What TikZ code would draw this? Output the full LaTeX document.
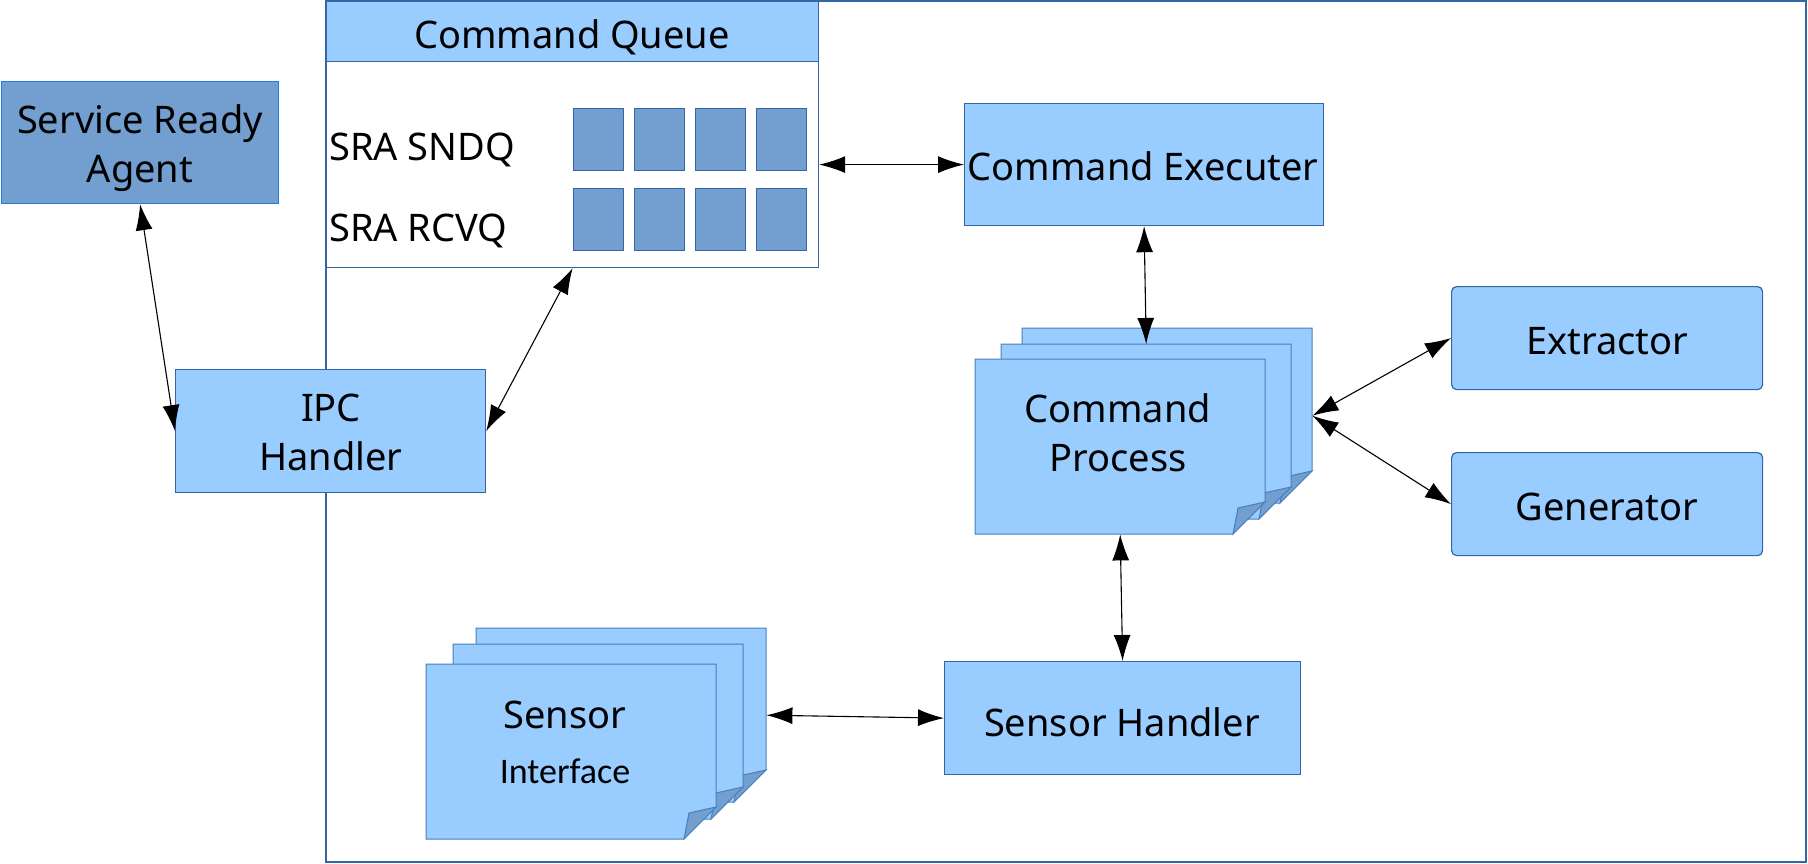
\documentclass[tikz,border=0pt]{standalone}
\usepackage{fontspec}
\setmainfont{Noto Sans}
\newfontfamily\ifacefont{Carlito}
\usetikzlibrary{arrows.meta}
\definecolor{lb}{HTML}{99CCFF}
\definecolor{mb}{HTML}{729FCF}
\definecolor{bd}{HTML}{3465A4}
\definecolor{pb}{HTML}{4A7EBB}
\definecolor{sbd}{HTML}{1C7FD0}
\newcommand\pagesheet[4]{%
  \filldraw[fill=lb,draw=pb,line width=1pt] (#1,#2) -- (#3,#2) -- (#3,#4-32) -- (#3-32,#4) -- (#1,#4) -- cycle;
  \filldraw[fill=mb,draw=pb,line width=1pt] (#3-32,#4) -- (#3-27,#4-26) -- (#3,#4-32) -- cycle;}
\begin{document}
\begin{tikzpicture}[x=1pt,y=-1pt,
  box/.style={draw=bd, fill=lb, line width=1.2pt, inner sep=0, anchor=north west},
  rbox/.style={box, rounded corners=5pt},
  lbl/.style={font=\fontsize{38}{49}\selectfont, align=center, inner sep=0},
  anchorbox/.style={draw=none, inner sep=0, anchor=north west},
  conn/.style={{Latex[length=26pt,width=17pt]}-{Latex[length=26pt,width=17pt]}, line width=1.1pt, black},
  cell/.style={draw=bd, fill=mb, line width=1.2pt, minimum width=50pt, minimum height=62pt, inner sep=0, anchor=north west}]
\useasboundingbox (0,0) rectangle (1808,864);
% outer frame
\draw[bd, line width=1.2pt] (326,1) rectangle (1806,862);
% Command Queue
\node[draw=bd, fill=white, line width=1.2pt, minimum width=492pt, minimum height=266pt, inner sep=0, anchor=north west] (cq) at (326,1) {};
\node[box, minimum width=492pt, minimum height=60pt] (cqh) at (326,1) {};
\node[lbl] (cqt) at (572,37) {Command Queue};
\node[lbl, anchor=west] (sndq) at (329,150) {SRA SNDQ};
\node[lbl, anchor=west] (rcvq) at (329,231) {SRA RCVQ};
\foreach \x [count=\i] in {573,634,695,756} {
  \node[cell] (s\i) at (\x,108) {};
  \node[cell] (r\i) at (\x,188) {};
}
% Service Ready Agent
\node[draw=sbd, fill=mb, line width=1.2pt, minimum width=277pt, minimum height=122pt, inner sep=0, anchor=north west] (sra) at (1,81) {};
\node[lbl] (srat) at (140,148) {Service Ready\\Agent};
% IPC Handler
\node[box, minimum width=310pt, minimum height=123pt] (ipc) at (175,369) {};
\node[lbl] (ipct) at (331,432) {IPC\\Handler};
% Command Executer
\node[box, minimum width=359pt, minimum height=122pt] (ce) at (964,103) {};
\node[lbl] (cet) at (1143,166.5) {Command Executer};
% Extractor / Generator
\node[rbox, minimum width=311pt, minimum height=103pt] (ext) at (1451,286) {};
\node[lbl] (extt) at (1607,341) {Extractor};
\node[rbox, minimum width=311pt, minimum height=103pt] (gen) at (1451,452) {};
\node[lbl] (gent) at (1607,507) {Generator};
% Sensor Handler
\node[box, minimum width=356pt, minimum height=113pt] (sh) at (944,661) {};
\node[lbl] (sht) at (1122,722) {Sensor Handler};
% Command Process stack
\pagesheet{1022}{328}{1312}{503}
\pagesheet{1001}{344}{1291}{519}
\pagesheet{975}{359}{1265}{534}
\node[anchorbox, minimum width=290pt, minimum height=175pt] (cp3) at (1022,328) {};
\node[anchorbox, minimum width=290pt, minimum height=175pt] (cp2) at (1001,344) {};
\node[anchorbox, minimum width=290pt, minimum height=175pt] (cp) at (975,359) {};
\node[lbl] (cpt) at (1118,433) {Command\\Process};
% Sensor Interface stack
\pagesheet{476}{628}{766}{802}
\pagesheet{453}{644}{743}{819}
\pagesheet{426}{664}{716}{839}
\node[anchorbox, minimum width=290pt, minimum height=174pt] (si3) at (476,628) {};
\node[anchorbox, minimum width=290pt, minimum height=175pt] (si) at (426,664) {};
\node[lbl] (sit1) at (565,715) {Sensor};
\node[inner sep=0, font=\ifacefont\fontsize{36}{44}\selectfont] (sit2) at (565,771) {Interface};
% connectors
\draw[conn] (sra.south) -- (ipc.west);
\draw[conn] (ipc.east) -- (cq.south);
\draw[conn] (cq.east |- ce.west) -- (ce.west);
\draw[conn] (ce.south) -- (cp2.north);
\draw[conn] (cp3.east) -- (ext.west);
\draw[conn] (cp3.east) -- (gen.west);
\draw[conn] (cp.south) -- (sh.north);
\draw[conn] (si3.east) -- (sh.west);
\end{tikzpicture}
\end{document}
